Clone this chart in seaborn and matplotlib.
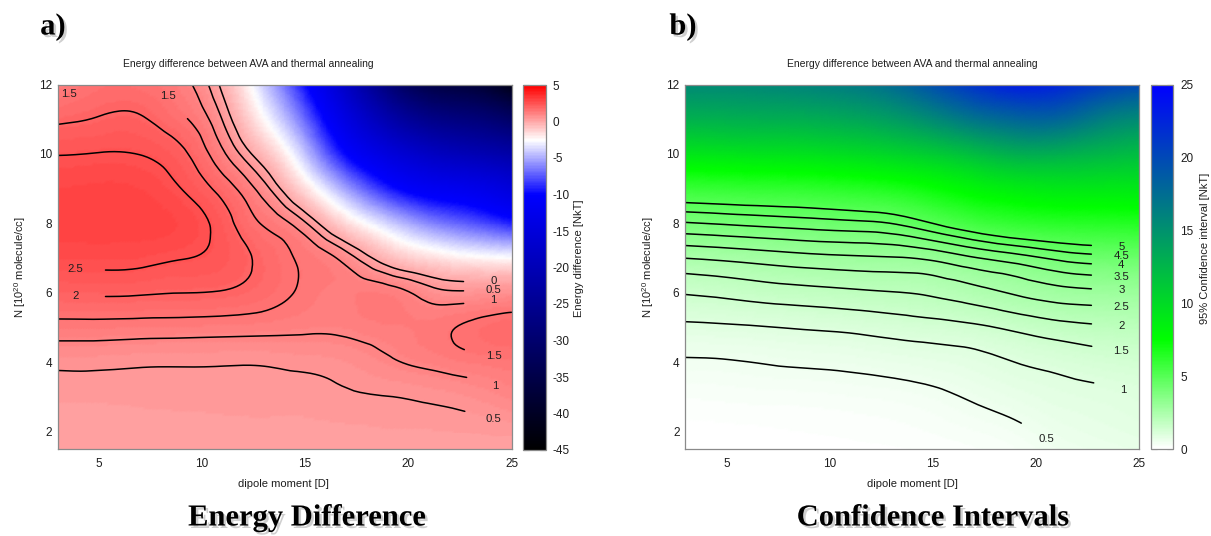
import numpy as np
import matplotlib
matplotlib.use("Agg")
import matplotlib.pyplot as plt
import matplotlib.patheffects as pe
import seaborn as sns
from matplotlib.tri import Triangulation, UniformTriRefiner, CubicTriInterpolator
from matplotlib.colors import LinearSegmentedColormap
from matplotlib.path import Path

# ---------------- data ----------------
dipole = [3, 5, 7, 9, 11, 13, 15, 17, 19, 21, 23, 25]          # x grid [D]
density = [1.5, 2, 3, 4, 5, 6, 7, 8, 9, 10, 11, 12]           # y grid [1e20 molecule/cc]

# energy difference AVA - thermal annealing [NkT]; one row per density value
energy_diff = [
    [0.12, 0.12, 0.13, 0.14, 0.15, 0.16, 0.17, 0.18, 0.20, 0.22, 0.24, 0.25],
    [0.20, 0.20, 0.21, 0.22, 0.23, 0.24, 0.25, 0.27, 0.30, 0.30, 0.32, 0.35],
    [0.33, 0.33, 0.34, 0.35, 0.36, 0.37, 0.38, 0.45, 0.49, 0.57, 0.70, 0.95],
    [0.60, 0.60, 0.56, 0.55, 0.54, 0.54, 0.60, 0.70, 0.92, 1.12, 1.30, 1.42],
    [1.30, 1.30, 1.27, 1.25, 1.22, 1.18, 1.10, 1.10, 1.25, 1.35, 1.60, 1.80],
    [2.05, 2.07, 2.05, 2.00, 1.96, 1.75, 1.40, 1.25, 1.25, 0.75, 0.60, 0.70],
    [2.66, 2.68, 2.65, 2.52, 2.33, 1.85, 1.40, 0.78, -0.50, -1.50, -2.20, -2.50],
    [2.96, 2.97, 2.95, 2.82, 2.25, 1.45, 0.57, -1.50, -3.80, -6.00, -7.40, -9.00],
    [2.85, 2.90, 2.85, 2.50, 1.80, 0.72, -1.60, -5.35, -9.10, -11.5, -12.6, -15.0],
    [2.48, 2.52, 2.49, 2.12, 1.10, -0.60, -4.30, -10.0, -14.5, -18.0, -20.0, -22.0],
    [1.90, 2.04, 2.06, 1.60, 0.47, -2.40, -7.00, -14.0, -21.0, -26.0, -28.0, -31.0],
    [1.16, 1.62, 1.60, 1.20, -0.20, -4.00, -9.70, -18.0, -28.0, -35.0, -37.0, -42.0],
]

# 95% confidence interval [NkT]; one row per density value
conf_interval = [
    [0.00, 0.00, 0.02, 0.04, 0.06, 0.08, 0.12, 0.18, 0.28, 0.48, 0.60, 0.70],
    [0.05, 0.06, 0.08, 0.10, 0.12, 0.15, 0.20, 0.28, 0.40, 0.60, 0.72, 0.82],
    [0.20, 0.22, 0.24, 0.25, 0.28, 0.32, 0.40, 0.55, 0.70, 0.83, 0.90, 1.00],
    [0.45, 0.47, 0.52, 0.56, 0.60, 0.67, 0.75, 0.85, 1.00, 1.12, 1.25, 1.35],
    [0.90, 0.93, 0.98, 1.04, 1.10, 1.20, 1.29, 1.40, 1.60, 1.80, 1.92, 2.00],
    [1.53, 1.62, 1.74, 1.82, 1.90, 1.97, 2.08, 2.30, 2.55, 2.78, 2.88, 2.95],
    [2.50, 2.60, 2.72, 2.83, 2.90, 2.95, 3.10, 3.45, 3.75, 4.10, 4.30, 4.40],
    [3.95, 4.05, 4.15, 4.25, 4.35, 4.50, 5.00, 5.60, 6.05, 6.30, 6.40, 6.50],
    [5.90, 6.00, 6.10, 6.20, 6.40, 6.70, 7.30, 8.10, 8.70, 9.00, 9.00, 9.00],
    [9.20, 9.30, 9.40, 9.50, 9.80, 10.3, 11.0, 12.0, 13.0, 13.0, 12.5, 12.0],
    [12.8, 12.9, 13.0, 13.1, 13.5, 14.2, 15.5, 17.0, 18.0, 18.0, 16.5, 15.5],
    [15.5, 15.5, 15.7, 16.0, 16.5, 17.5, 19.5, 21.5, 23.0, 22.5, 21.0, 20.0],
]

energy_levels = [0, 0.5, 1, 1.5, 2, 2.5]
conf_levels = [0.5, 1, 1.5, 2, 2.5, 3, 3.5, 4, 4.5, 5]
x_ticks = [5, 10, 15, 20, 25]
y_ticks = [2, 4, 6, 8, 10, 12]
energy_cbar_ticks = [5, 0, -5, -10, -15, -20, -25, -30, -35, -40, -45]
conf_cbar_ticks = [0, 5, 10, 15, 20, 25]

title_text = "Energy difference between AVA and thermal annealing"
x_label = "dipole moment [D]"
y_label = r"N [10$^{20}$ molecule/cc]"

# ---------------- style ----------------
sns.set_theme(style="white")
plt.rcParams["font.family"] = ["Liberation Sans", "DejaVu Sans"]
plt.rcParams["mathtext.fontset"] = "custom"
plt.rcParams["mathtext.rm"] = "Liberation Sans"
plt.rcParams["mathtext.it"] = "Liberation Sans:italic"
plt.rcParams["mathtext.bf"] = "Liberation Sans:bold"
plt.rcParams["axes.unicode_minus"] = False

W, H = 1211, 536
fig = plt.figure(figsize=(W / 100, H / 100), dpi=100)


def frac_rect(l, t, r, b):
    return [l / W, 1 - b / H, (r - l) / W, (b - t) / H]


def fpos(x, y):
    return x / W, 1 - y / H


TXT = "#1e1e1e"
SPINE = "#8a8a8a"

cmap_energy = LinearSegmentedColormap.from_list(
    "ediff", [(0.0, "#000000"), (0.7, "#0000ff"), (0.85, "#ffffff"), (1.0, "#ff0000")])
cmap_conf = LinearSegmentedColormap.from_list(
    "conf", [(0.0, "#ffffff"), (0.3, "#00ff00"), (1.0, "#0000ff")])

X_MIN, X_MAX, Y_MIN, Y_MAX = 3, 25, 1.5, 12


def grid_triangulation(xs, ys):
    X, Y = np.meshgrid(xs, ys)
    nx, ny = len(xs), len(ys)
    tris = []
    for j in range(ny - 1):
        for i in range(nx - 1):
            a = j * nx + i
            b, c = a + 1, a + nx
            d = c + 1
            tris.append([a, b, d])
            tris.append([a, d, c])
    return Triangulation(X.ravel(), Y.ravel(), np.array(tris))


def split_path(path):
    v, codes = path.vertices, path.codes
    if codes is None:
        return [np.asarray(v)]
    segs, cur = [], []
    for pt, code in zip(v, codes):
        if code == Path.MOVETO:
            if len(cur) > 1:
                segs.append(np.array(cur))
            cur = [pt]
        elif code == Path.CLOSEPOLY:
            if cur:
                cur.append(cur[0])
        else:
            cur.append(pt)
    if len(cur) > 1:
        segs.append(np.array(cur))
    return segs


def edge_rank(p):
    eps = 1e-6
    if abs(p[0] - X_MAX) < eps:
        return 0
    if abs(p[1] - Y_MIN) < eps:
        return 1
    if abs(p[1] - Y_MAX) < eps:
        return 2
    if abs(p[0] - X_MIN) < eps:
        return 3
    return 4


def fmt_level(v):
    return f"{v:g}"


def draw_labeled_contours(ax, tri_r, z_r, levels, trim_px=48, lab_px=18):
    cs = ax.tricontour(tri_r, z_r, levels=levels)
    paths = cs.get_paths()
    levs = list(cs.levels)
    cs.remove()
    for lev, path in zip(levs, paths):
        for seg in split_path(path):
            if len(seg) < 2:
                continue
            r0, r1 = edge_rank(seg[0]), edge_rank(seg[-1])
            if r0 < r1 or (r0 == r1 and seg[0, 1] < seg[-1, 1]):
                seg = seg[::-1]
            disp = ax.transData.transform(seg)
            steps = np.hypot(*np.diff(disp, axis=0).T)
            from_end = np.concatenate([np.cumsum(steps[::-1])[::-1], [0.0]])
            rev_d = from_end[::-1]
            lx = np.interp(lab_px, rev_d, seg[::-1, 0])
            ly = np.interp(lab_px, rev_d, seg[::-1, 1])
            if from_end[0] > trim_px:
                keep = from_end >= trim_px
                cx = np.interp(trim_px, rev_d, seg[::-1, 0])
                cy = np.interp(trim_px, rev_d, seg[::-1, 1])
                vis = np.vstack([seg[keep], [[cx, cy]]])
                sns.lineplot(x=vis[:, 0], y=vis[:, 1], sort=False, estimator=None,
                             color="black", linewidth=1.1, ax=ax)
            ax.text(lx, ly, fmt_level(lev), ha="center", va="center",
                    fontsize=8.2, color=TXT, zorder=5)


def make_panel(ax_rect, cax_rect, values, cmap, vmin, vmax, levels, cticks,
               cbar_label, cbar_label_pos, title_pos, xlabel_pos, ylabel_pos):
    ax = fig.add_axes(frac_rect(*ax_rect))
    cax = fig.add_axes(frac_rect(*cax_rect))
    tri = grid_triangulation(dipole, density)
    z = np.asarray(values, dtype=float).ravel()
    interp = CubicTriInterpolator(tri, z, kind="min_E")
    refiner = UniformTriRefiner(tri)
    tri_r, z_r = refiner.refine_field(z, triinterpolator=interp, subdiv=4)
    mesh = ax.tripcolor(tri_r, z_r, shading="gouraud", cmap=cmap, vmin=vmin, vmax=vmax)
    ax.set_xlim(X_MIN, X_MAX)
    ax.set_ylim(Y_MIN, Y_MAX)
    draw_labeled_contours(ax, tri_r, z_r, levels)
    ax.set_xlim(X_MIN, X_MAX)
    ax.set_ylim(Y_MIN, Y_MAX)
    ax.set_xlabel("")
    ax.set_ylabel("")
    ax.set_xticks(x_ticks)
    ax.set_yticks(y_ticks)
    ax.tick_params(length=0, labelsize=8.5, labelcolor=TXT)
    ax.tick_params(axis="x", pad=6)
    ax.tick_params(axis="y", pad=4)
    for s in ax.spines.values():
        s.set_edgecolor(SPINE)
        s.set_linewidth(0.9)

    cb = fig.colorbar(mesh, cax=cax, ticks=cticks)
    cb.outline.set_edgecolor(SPINE)
    cb.outline.set_linewidth(0.9)
    cax.yaxis.set_ticks_position("both")
    cax.tick_params(axis="y", direction="in", length=4, width=0.8, color="#666666",
                    labelsize=8.5, labelcolor=TXT, labelleft=False, labelright=True, pad=5)

    fig.text(*fpos(*cbar_label_pos), cbar_label, rotation=90, ha="center", va="center",
             fontsize=8, color=TXT)
    fig.text(*fpos(*title_pos), title_text, ha="center", va="center", fontsize=7.5, color=TXT)
    fig.text(*fpos(*xlabel_pos), x_label, ha="center", va="center", fontsize=8, color=TXT)
    fig.text(*fpos(*ylabel_pos), y_label, rotation=90, ha="center", va="center",
             fontsize=8, color=TXT)
    return ax


make_panel((57.5, 84.5, 511.5, 449.3), (522.7, 85, 545.7, 450), energy_diff, cmap_energy,
           -45, 5, energy_levels, energy_cbar_ticks, "Energy difference [NkT]",
           (579, 258), (248, 64), (283, 484), (20, 267))
make_panel((685, 84.5, 1139.3, 449.3), (1150.7, 84.5, 1173.3, 449.3), conf_interval, cmap_conf,
           0, 25, conf_levels, conf_cbar_ticks, "95% Confidence interval [NkT]",
           (1205, 248), (912, 64), (912, 484), (648, 267))

shadow = [pe.SimplePatchShadow(offset=(1.8, -1.8), shadow_rgbFace="#777777", alpha=0.35),
          pe.Normal()]
serif = ["Liberation Serif", "DejaVu Serif"]
for txt, pos in [("a)", (53, 27)), ("b)", (683, 27)),
                 ("Energy Difference", (307, 518)), ("Confidence Intervals", (933, 518))]:
    fig.text(*fpos(*pos), txt, ha="center", va="center", fontsize=22, fontweight="bold",
             family=serif, color="black", path_effects=shadow)

fig.savefig("out.png", dpi=100)
